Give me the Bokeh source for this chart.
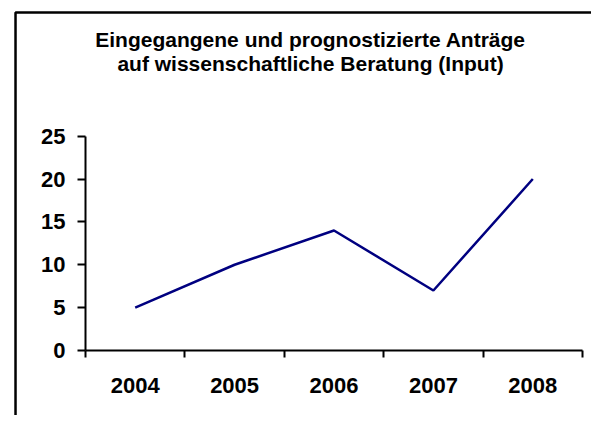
from bokeh.plotting import figure
from bokeh.models import Range1d, FixedTicker, Label, BoxAnnotation, ColumnDataSource
from bokeh.embed import file_html
from bokeh.resources import INLINE

years = ["2004", "2005", "2006", "2007", "2008"]
antraege = [5, 10, 14, 7, 20]
y_ticks = [0, 5, 10, 15, 20, 25]
title_lines = ["Eingegangene und prognostizierte Anträge",
               "auf wissenschaftliche Beratung (Input)"]

FONT = "Liberation Sans"
n = len(years)

xpos = [i + 0.5 for i in range(n)]
src = ColumnDataSource(data=dict(x=xpos, y=antraege, year=years))

# the frame covers the whole chart area; axes are pinned inside it
p = figure(width=591, height=415, output_backend="svg", toolbar_location=None,
           x_range=Range1d(-0.7545, 5.0905), y_range=Range1d(-7.583, 40.01),
           min_border_left=10, min_border_right=0, min_border_top=7,
           min_border_bottom=0)
p.outline_line_color = None
p.xgrid.visible = False
p.ygrid.visible = False
p.background_fill_color = "white"
p.border_fill_color = "white"

p.line("x", "y", source=src, line_color="#000080", line_width=2.5)

# x axis: labels at category centres, tick marks between categories
xa = p.xaxis[0]
xa.fixed_location = 0
xa.bounds = (0, n)
xa.ticker = FixedTicker(ticks=xpos, minor_ticks=list(range(n + 1)))
xa.major_label_overrides = {x: y for x, y in zip(xpos, years)}
xa.major_tick_line_color = None
xa.major_tick_out = 7
xa.major_tick_in = 0
xa.minor_tick_out = 7
xa.minor_tick_in = 0
xa.minor_tick_line_width = 2
xa.minor_tick_line_color = "black"
xa.axis_line_width = 2
xa.axis_line_color = "black"
xa.major_label_standoff = 21
xa.major_label_text_font = FONT
xa.major_label_text_font_style = "bold"
xa.major_label_text_font_size = "22px"
xa.major_label_text_color = "black"

ya = p.yaxis[0]
ya.fixed_location = 0
ya.bounds = (0, 25)
ya.ticker = FixedTicker(ticks=y_ticks, minor_ticks=[])
ya.major_tick_out = 8
ya.major_tick_in = 0
ya.major_tick_line_width = 2
ya.major_tick_line_color = "black"
ya.axis_line_width = 2
ya.axis_line_color = "black"
ya.major_label_standoff = 12
ya.major_label_text_font = FONT
ya.major_label_text_font_style = "bold"
ya.major_label_text_font_size = "22px"
ya.major_label_text_color = "black"

# chart border (left and top edges visible)
p.add_layout(BoxAnnotation(left=-0.704, right=10, top=39.43, bottom=-30,
                           fill_alpha=0, line_color="black", line_alpha=1.0,
                           line_width=2.5))

# two-line title
for txt, yy in zip(title_lines, [36.3, 33.45]):
    p.add_layout(Label(x=2.264, y=yy, text=txt, text_align="center",
                       text_baseline="alphabetic", text_font=FONT,
                       text_font_style="bold", text_font_size="21px",
                       text_color="black"))

open("out.html", "w").write(file_html(p, INLINE))
